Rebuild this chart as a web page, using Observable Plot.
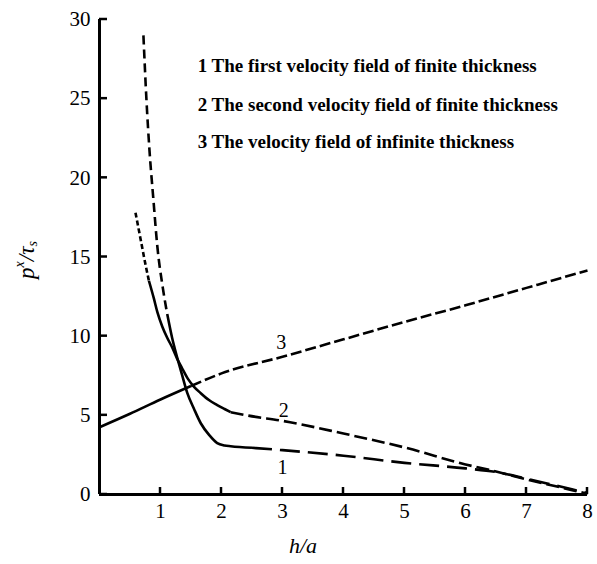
<!DOCTYPE html>
<html>
<head>
<meta charset="utf-8">
<script src="https://cdn.jsdelivr.net/npm/d3@7"></script>
<script src="https://cdn.jsdelivr.net/npm/@observablehq/plot@0.6"></script>
<style>
  body { margin: 0; background: #fff; }
  #chart svg { display: block; }
</style>
</head>
<body>
<div id="chart"></div>
<script>
// ---- data ----
const curve1X = [0.72, 0.77, 0.82, 0.88, 0.95, 1.04, 1.11, 1.19, 1.27, 1.35, 1.44, 1.55, 1.66, 1.80, 1.93, 2.05, 2.15, 2.5, 3.0, 4.0, 5.0, 6.0, 6.5, 7.0, 7.5, 8.0];
const curve1Y = [29.0, 24.9, 21.7, 18.8, 15.6, 13.0, 11.4, 9.9, 8.7, 7.6, 6.4, 5.4, 4.5, 3.75, 3.25, 3.1, 3.05, 2.95, 2.8, 2.45, 2.0, 1.65, 1.42, 1.0, 0.55, 0.1];

const curve2X = [0.59, 0.68, 0.75, 0.81, 0.89, 0.95, 1.03, 1.11, 1.19, 1.27, 1.35, 1.45, 1.55, 1.66, 1.80, 1.93, 2.05, 2.15, 2.44, 3.0, 4.0, 5.0, 6.0, 6.5, 7.0, 7.5, 8.0];
const curve2Y = [17.8, 16.0, 14.6, 13.5, 12.4, 11.5, 10.6, 9.9, 9.3, 8.6, 8.0, 7.3, 6.8, 6.4, 5.95, 5.65, 5.4, 5.2, 4.98, 4.65, 3.85, 2.97, 1.9, 1.45, 0.95, 0.5, 0.05];

const curve3X = [0, 0.5, 1, 1.5, 2, 3, 4, 5, 6, 7, 8];
const curve3Y = [4.25, 5.1, 6.0, 6.85, 7.65, 8.7, 9.8, 10.9, 11.95, 13.05, 14.15];

const xTicks = [1, 2, 3, 4, 5, 6, 7, 8];
const yTicks = [0, 5, 10, 15, 20, 25, 30];

const legendLines = [
  "1 The first velocity field of finite thickness",
  "2 The second velocity field of finite thickness",
  "3 The velocity field of infinite thickness"
];
const legendX = 1.61;
const legendY = [27.06, 24.6, 22.3];

const curveLabels = ["1", "2", "3"];
const curveLabelX = [3.0, 3.02, 2.98];
const curveLabelY = [1.72, 5.3, 9.62];

// ---- build tables ----
const rows = (xs, ys) => xs.map((x, i) => ({x, y: ys[i]}));
const c1 = rows(curve1X, curve1Y);
const c2 = rows(curve2X, curve2Y);
const c3 = rows(curve3X, curve3Y);

const W = 597, H = 564, ML = 99, MR = 10, MT = 19, MB = 70;

const serif = "'Liberation Serif', 'Times New Roman', Times, serif";
const lineOpts = {x: "x", y: "y", stroke: "#000", strokeWidth: 2.6, curve: "monotone-x", strokeLinecap: "butt"};

const chart = Plot.plot({
  width: W,
  height: H,
  marginLeft: ML,
  marginRight: MR,
  marginTop: MT,
  marginBottom: MB,
  style: {fontFamily: serif, fontSize: "21px", background: "#fff", color: "#000", overflow: "visible"},
  x: {domain: [0, 8]},
  y: {domain: [0, 30]},
  marks: [
    // tick labels
    Plot.axisX({ticks: xTicks, tickSize: 0, tickPadding: 9, label: null, fontSize: 21}),
    Plot.axisY({ticks: yTicks, tickSize: 0, tickPadding: 9, label: null, fontSize: 21}),
    // axis lines
    Plot.ruleX([0], {stroke: "#000", strokeWidth: 3}),
    Plot.ruleY([0], {stroke: "#000", strokeWidth: 3}),

    // curve 1 (long dashes)
    Plot.line(c1, {...lineOpts, filter: d => d.x <= 1.11, strokeDasharray: "9,5"}),
    Plot.line(c1, {...lineOpts, filter: d => d.x >= 1.11 && d.x <= 2.5}),
    Plot.line(c1, {...lineOpts, filter: d => d.x >= 2.5, strokeDasharray: "20,8"}),

    // curve 2 (short dashes)
    Plot.line(c2, {...lineOpts, filter: d => d.x <= 0.81, strokeDasharray: "5,3"}),
    Plot.line(c2, {...lineOpts, filter: d => d.x >= 0.81 && d.x <= 2.15}),
    Plot.line(c2, {...lineOpts, filter: d => d.x >= 2.15, strokeDasharray: "13,5"}),

    // curve 3
    Plot.line(c3, {...lineOpts, filter: d => d.x <= 1.5}),
    Plot.line(c3, {...lineOpts, filter: d => d.x >= 1.5, strokeDasharray: "11,4"}),

    // curve number labels
    Plot.text(curveLabels, {x: (d, i) => curveLabelX[i], y: (d, i) => curveLabelY[i], text: d => d, fontSize: 20}),

    // legend text
    Plot.text(legendLines, {x: () => legendX, y: (d, i) => legendY[i], text: d => d, textAnchor: "start", fontSize: 19, fontWeight: "bold"})
  ]
});

document.getElementById("chart").append(chart);

// inward ticks, positioned with the plot's own scales
const sx = chart.scale("x"), sy = chart.scale("y");
const svg = d3.select(chart);
const tg = svg.append("g").attr("stroke", "#000");
xTicks.forEach(t => {
  const px = sx.apply(t);
  tg.append("line").attr("x1", px).attr("x2", px)
    .attr("y1", sy.apply(0)).attr("y2", sy.apply(0) - 7).attr("stroke-width", 2.5);
});
yTicks.forEach(t => {
  const py = sy.apply(t);
  tg.append("line").attr("x1", sx.apply(0)).attr("x2", sx.apply(0) + 8)
    .attr("y1", py).attr("y2", py).attr("stroke-width", 2.5);
});

// axis titles as real text with super/subscripts
const yl = svg.append("text")
  .attr("transform", "translate(29,260) rotate(-90)")
  .attr("text-anchor", "middle")
  .attr("dominant-baseline", "middle")
  .attr("font-family", serif)
  .attr("font-style", "italic")
  .attr("font-size", 23)
  .attr("fill", "#000");
yl.append("tspan").text("p");
yl.append("tspan").attr("font-size", 14).attr("dy", -8).text("x");
yl.append("tspan").attr("dy", 8).text("/τ");
yl.append("tspan").attr("font-size", 14).attr("dy", 5).text("s");

svg.append("text")
  .attr("x", 303)
  .attr("y", 548)
  .attr("text-anchor", "middle")
  .attr("dominant-baseline", "middle")
  .attr("font-family", serif)
  .attr("font-style", "italic")
  .attr("font-size", 22)
  .attr("fill", "#000")
  .text("h/a");
</script>
</body>
</html>
